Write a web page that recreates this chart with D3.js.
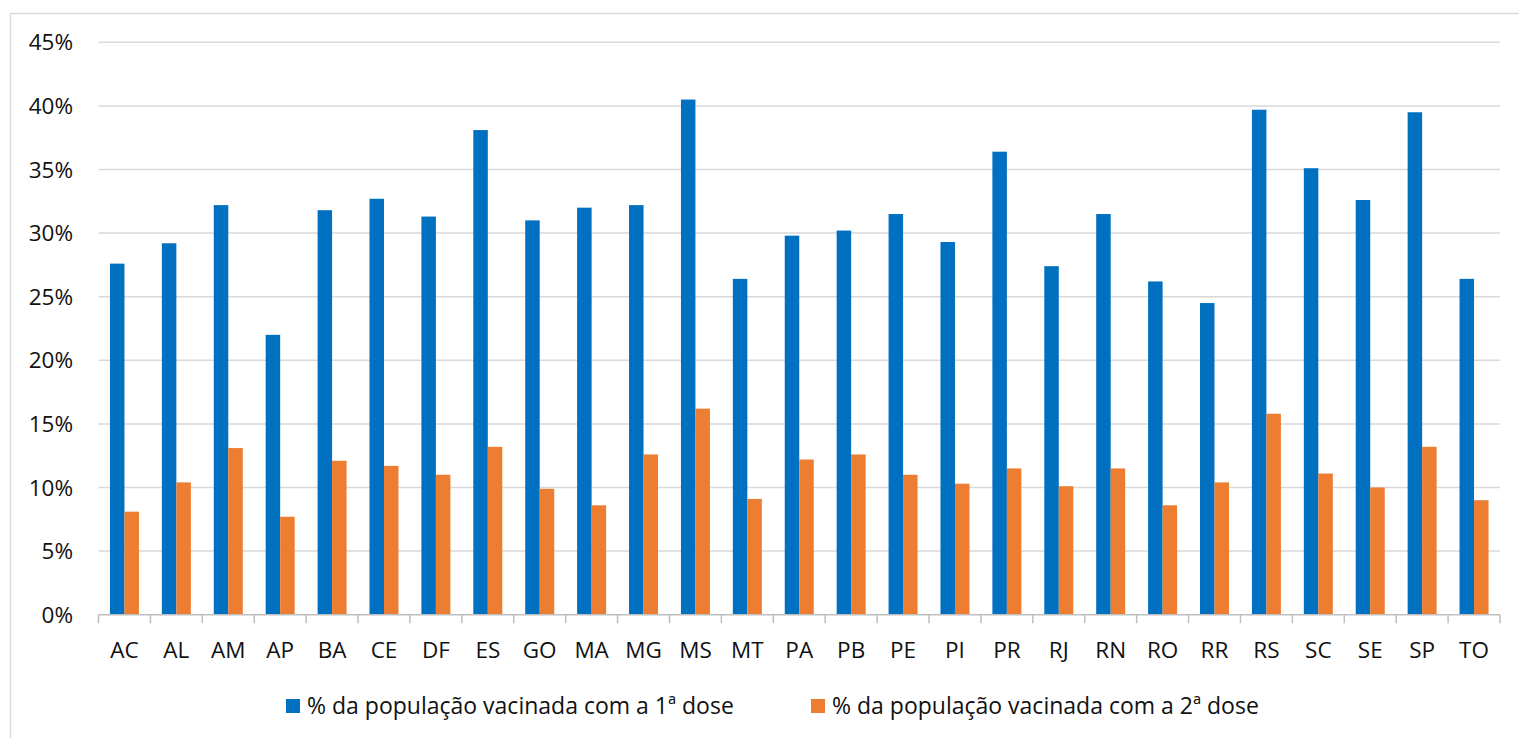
<!DOCTYPE html>
<meta charset="utf-8">
<style>
body { margin: 0; background: #fff; }
text { font-family: "Open Sans", sans-serif; fill: #111; }
.grid line { stroke: #d9d9d9; stroke-width: 1.5px; }
</style>
<svg width="1519" height="738"></svg>
<script src="https://d3js.org/d3.v7.min.js"></script>
<script>

var states = ["AC", "AL", "AM", "AP", "BA", "CE", "DF", "ES", "GO", "MA", "MG", "MS", "MT", "PA",
    "PB", "PE", "PI", "PR", "RJ", "RN", "RO", "RR", "RS", "SC", "SE", "SP", "TO"];

var dose1 = [27.6, 29.2, 32.2, 22.0, 31.8, 32.7, 31.3, 38.1, 31.0, 32.0, 32.2, 40.5, 26.4, 29.8,
    30.2, 31.5, 29.3, 36.4, 27.4, 31.5, 26.2, 24.5, 39.7, 35.1, 32.6, 39.5, 26.4];

var dose2 = [8.1, 10.4, 13.1, 7.7, 12.1, 11.7, 11.0, 13.2, 9.9, 8.6, 12.6, 16.2, 9.1, 12.2,
    12.6, 11.0, 10.3, 11.5, 10.1, 11.5, 8.6, 10.4, 15.8, 11.1, 10.0, 13.2, 9.0];

var seriesNames = ["% da população vacinada com a 1ª dose", "% da população vacinada com a 2ª dose"];
var seriesColors = ["#0070c0", "#ed7d31"];
var yTicks = [0, 5, 10, 15, 20, 25, 30, 35, 40, 45];

var svg = d3.select("svg");

// chart frame (right and bottom edges fall outside the picture)
svg.append("rect")
    .attr("x", 10.5).attr("y", 13.5)
    .attr("width", 1530).attr("height", 760)
    .attr("fill", "none")
    .attr("stroke", "#d9d9d9")
    .attr("stroke-width", 1.5);

var x = d3.scaleBand()
    .domain(states)
    .range([98.5, 1500]);

var x1 = d3.scaleBand()
    .domain([0, 1])
    .range([0, x.bandwidth()])
    .paddingInner(0)
    .paddingOuter(0.79);

var y = d3.scaleLinear()
    .domain([0, 45])
    .range([614.7, 42.3]);

// gridlines
svg.append("g")
    .attr("class", "grid")
    .selectAll("line")
    .data(yTicks.filter(function (d) { return d > 0; }))
    .enter().append("line")
    .attr("x1", 98.5).attr("x2", 1500)
    .attr("y1", function (d) { return y(d); })
    .attr("y2", function (d) { return y(d); });

// y labels
svg.append("g")
    .selectAll("text")
    .data(yTicks)
    .enter().append("text")
    .attr("x", 73)
    .attr("y", function (d) { return y(d); })
    .attr("dy", "0.36em")
    .attr("text-anchor", "end")
    .style("font-size", "22.5px")
    .text(function (d) { return d + "%"; });

// bars
var rows = states.map(function (s, i) { return { state: s, values: [dose1[i], dose2[i]] }; });

svg.append("g")
    .selectAll("g")
    .data(rows)
    .enter().append("g")
    .attr("transform", function (d) { return "translate(" + x(d.state) + ",0)"; })
    .selectAll("rect")
    .data(function (d) { return d.values.map(function (v, k) { return { k: k, v: v }; }); })
    .enter().append("rect")
    .attr("x", function (d) { return x1(d.k); })
    .attr("width", x1.bandwidth())
    .attr("y", function (d) { return y(d.v); })
    .attr("height", function (d) { return y(0) - y(d.v); })
    .attr("fill", function (d) { return seriesColors[d.k]; });

// x axis
var xAxis = svg.append("g")
    .attr("transform", "translate(0," + y(0) + ")");

xAxis.append("line")
    .attr("x1", 98.5).attr("x2", 1500)
    .attr("stroke", "#bfbfbf").attr("stroke-width", 1.5);

xAxis.selectAll("line.tick")
    .data(states.concat([null]))
    .enter().append("line")
    .attr("class", "tick")
    .attr("x1", function (d, i) { return 98.5 + i * x.step(); })
    .attr("x2", function (d, i) { return 98.5 + i * x.step(); })
    .attr("y1", 0).attr("y2", 8.5)
    .attr("stroke", "#bfbfbf").attr("stroke-width", 1.5);

xAxis.selectAll("text")
    .data(states)
    .enter().append("text")
    .attr("x", function (d) { return x(d) + x.bandwidth() / 2; })
    .attr("y", 43.6)
    .attr("text-anchor", "middle")
    .style("font-size", "22.5px")
    .text(function (d) { return d; });

// legend
var legendX = [286, 811];
var legend = svg.append("g")
    .selectAll("g")
    .data(seriesNames)
    .enter().append("g")
    .attr("transform", function (d, i) { return "translate(" + legendX[i] + ",699)"; });

legend.append("rect")
    .attr("width", 14).attr("height", 14)
    .attr("fill", function (d, i) { return seriesColors[i]; });

legend.append("text")
    .attr("x", 21)
    .attr("y", 15)
    .style("font-size", "23px")
    .text(function (d) { return d; });

</script>
